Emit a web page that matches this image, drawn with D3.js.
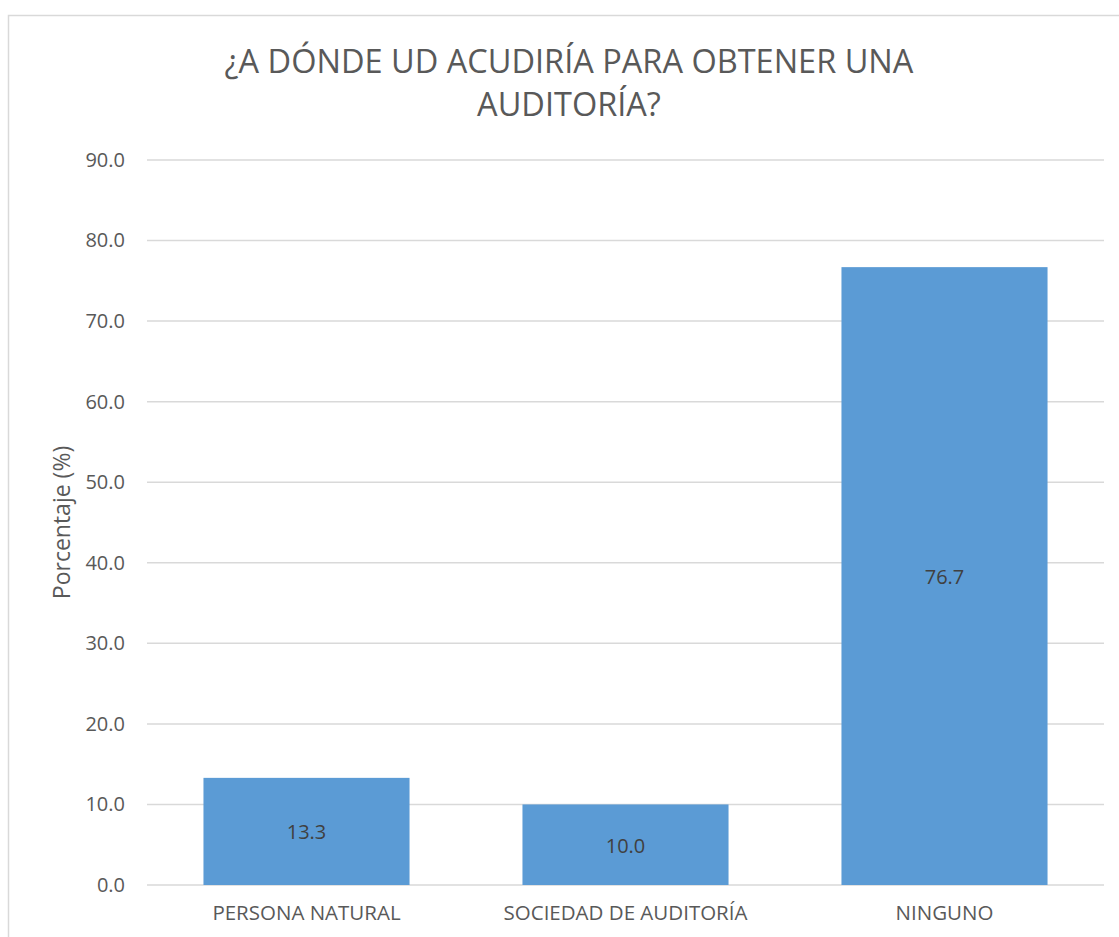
<!DOCTYPE html>
<html>
<head>
<meta charset="utf-8">
<script src="https://cdn.jsdelivr.net/npm/d3@7"></script>
<style>
  body { margin: 0; background: #fff; }
  text { font-family: "Open Sans", "Noto Sans", sans-serif; }
</style>
</head>
<body>
<div id="chart"></div>
<script>
var categories = ["PERSONA NATURAL", "SOCIEDAD DE AUDITORÍA", "NINGUNO"];
var values = [13.3, 10.0, 76.7];
var yTicks = [0, 10, 20, 30, 40, 50, 60, 70, 80, 90];
var titleLines = ["¿A DÓNDE UD ACUDIRÍA PARA OBTENER UNA", "AUDITORÍA?"];

var svgW = 1119, svgH = 937;
var plot = { left: 147, right: 1104, top: 160, bottom: 885 };

var svg = d3.select("#chart").append("svg")
    .attr("width", svgW)
    .attr("height", svgH);

// outer chart border
svg.append("rect")
    .attr("x", 8.5).attr("y", 15.5)
    .attr("width", 1125).attr("height", 940)
    .attr("fill", "#fff")
    .attr("stroke", "#d9d9d9")
    .attr("stroke-width", 1.5);

var x = d3.scaleBand()
    .domain(categories)
    .range([plot.left, plot.right])
    .paddingInner(0.354)
    .paddingOuter(0.177);

var y = d3.scaleLinear()
    .domain([0, 90])
    .range([plot.bottom, plot.top]);

// gridlines
svg.append("g")
    .selectAll("line")
    .data(yTicks)
    .enter()
    .append("line")
    .attr("x1", plot.left).attr("x2", plot.right)
    .attr("y1", function(d) { return y(d); })
    .attr("y2", function(d) { return y(d); })
    .attr("stroke", "#d9d9d9")
    .attr("stroke-width", 1.5);

// y axis labels
var yAxis = d3.axisLeft(y).tickValues(yTicks).tickFormat(d3.format(".1f")).tickSize(0).tickPadding(22);
var yG = svg.append("g")
    .attr("transform", "translate(" + plot.left + ",0)")
    .call(yAxis);
yG.select(".domain").remove();
yG.selectAll("text")
    .attr("fill", "#595959")
    .style("font-size", "20px");

// bars
svg.append("g")
    .selectAll("rect")
    .data(values)
    .enter()
    .append("rect")
    .attr("x", function(d, i) { return x(categories[i]); })
    .attr("y", function(d) { return y(d); })
    .attr("width", x.bandwidth())
    .attr("height", function(d) { return y(0) - y(d); })
    .attr("fill", "#5b9bd5");

// value labels centered in bars
svg.append("g")
    .selectAll("text")
    .data(values)
    .enter()
    .append("text")
    .attr("x", function(d, i) { return x(categories[i]) + x.bandwidth() / 2; })
    .attr("y", function(d) { return (y(d) + y(0)) / 2 + 1; })
    .attr("dy", "0.35em")
    .attr("text-anchor", "middle")
    .attr("fill", "#404040")
    .style("font-size", "20px")
    .text(function(d) { return d3.format(".1f")(d); });

// x axis labels
var xAxis = d3.axisBottom(x).tickSize(0).tickPadding(20);
var xG = svg.append("g")
    .attr("transform", "translate(0," + plot.bottom + ")")
    .call(xAxis);
xG.select(".domain").remove();
xG.selectAll("text")
    .attr("fill", "#595959")
    .style("font-size", "20.5px");

// y axis title
svg.append("text")
    .attr("transform", "translate(70," + ((plot.top + plot.bottom) / 2) + ") rotate(-90)")
    .attr("text-anchor", "middle")
    .attr("fill", "#595959")
    .style("font-size", "23px")
    .text("Porcentaje (%)");

// chart title
svg.append("g")
    .selectAll("text")
    .data(titleLines)
    .enter()
    .append("text")
    .attr("x", 569)
    .attr("y", function(d, i) { return 73 + i * 43; })
    .attr("text-anchor", "middle")
    .attr("fill", "#595959")
    .style("font-size", "32.5px")
    .text(function(d) { return d; });
</script>
</body>
</html>
